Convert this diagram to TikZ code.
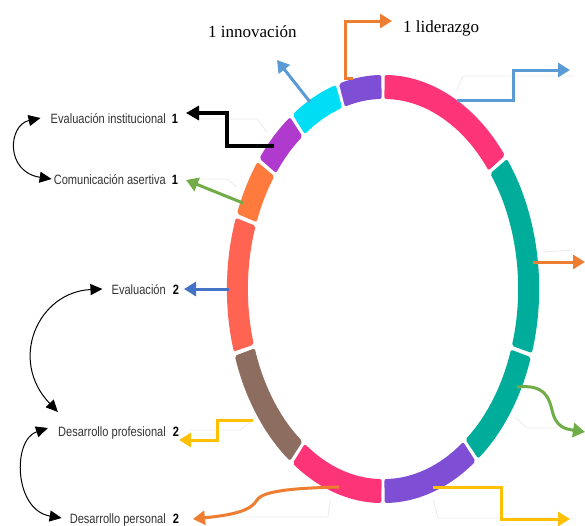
\documentclass[tikz,border=0pt]{standalone}
\usepackage{fontspec}
\setmainfont{Liberation Serif}
\newfontfamily\lblfont[FakeStretch=0.82]{Liberation Sans}
\usetikzlibrary{arrows.meta}
\definecolor{segpink}{HTML}{FE3479}
\definecolor{segteal}{HTML}{00AD9B}
\definecolor{segpurple}{HTML}{7E4FD5}
\definecolor{segbrown}{HTML}{8C6D60}
\definecolor{segcoral}{HTML}{FF6352}
\definecolor{segorange}{HTML}{FF7A3D}
\definecolor{segmagenta}{HTML}{B03ACD}
\definecolor{segcyan}{HTML}{00DEF6}
\definecolor{arrgreen}{HTML}{70AD47}
\definecolor{arrsky}{HTML}{5B9BD5}
\definecolor{arrorange}{HTML}{ED7D31}
\definecolor{arryellow}{HTML}{FFC000}
\definecolor{arrblue}{HTML}{4472C4}
\definecolor{labelgray}{HTML}{333333}
\definecolor{leadergray}{HTML}{EBEBEB}
\newcommand\ao{156}
\newcommand\bo{214}
\newcommand\ai{135}
\newcommand\bi{190}
\newcommand\ringseg[3]{%
  \fill[#3, rounded corners=2pt] (-#1+0.6:\ao\space and \bo) arc[start angle=-#1+0.6, end angle=-#2-0.6, x radius=\ao, y radius=\bo]
    -- (-#2-0.6:\ai\space and \bi) arc[start angle=-#2-0.6, end angle=-#1+0.6, x radius=\ai, y radius=\bi] -- cycle;}
\begin{document}
\begin{tikzpicture}[x=1pt,y=-1pt,
  conn/.style={line width=3pt, -{Triangle[length=12pt,width=14pt]}},
  swaparrow/.style={line width=1pt, {Triangle[length=12pt,width=11pt]}-{Triangle[length=12pt,width=11pt]}},
  lbl/.style={font=\lblfont\fontsize{13.5}{14}\selectfont, text=labelgray, anchor=base east, inner sep=0pt},
  num/.style={font=\lblfont\bfseries\fontsize{13.5}{14}\selectfont, anchor=base, inner sep=0pt},
  serif/.style={font=\fontsize{17}{20}\selectfont, anchor=base west, inner sep=0pt},
  leader/.style={draw=leadergray, line width=0.8pt}]
\useasboundingbox (0,0) rectangle (585,525);
% faint leader lines
\draw[leader] (197,119) -- (257,119) -- (267,132);
\draw[leader] (200,179) -- (227,179) -- (237,187);
\draw[leader] (575,76) -- (463,76) -- (457,90);
\draw[leader] (543,252) -- (575,250);
\draw[leader] (515,417) -- (527,428) -- (585,428);
\draw[leader] (200,517) -- (328,517) -- (330,500);
\draw[leader] (433,500) -- (438,518) -- (575,518);
\draw[leader] (190,430) -- (240,430) -- (253,420);
% ring
\begin{scope}[shift={(383,289)}]
\ringseg{90}{38}{segpink}
\ringseg{38}{-18}{segteal}
\ringseg{-18}{-53}{segteal}
\ringseg{-53}{-90}{segpurple}
\ringseg{270}{234}{segpink}
\ringseg{234}{197.6}{segbrown}
\ringseg{197.6}{160}{segcoral}
\ringseg{160}{143}{segorange}
\ringseg{143}{126}{segmagenta}
\ringseg{126}{107}{segcyan}
\ringseg{107}{90}{segpurple}
\end{scope}
% labels
\node[lbl] (ei) at (166,123) {Evaluación institucional};
\node[num] (ein) at (175,123) {1};
\node[lbl] (ca) at (166,184) {Comunicación asertiva};
\node[num] (can) at (175,184) {1};
\node[lbl] (ev) at (166,294) {Evaluación};
\node[num] (evn) at (176,294) {2};
\node[lbl] (dpf) at (166,436) {Desarrollo profesional};
\node[num] (dpfn) at (176,436) {2};
\node[lbl] (dps) at (166,523) {Desarrollo personal};
\node[num] (dpsn) at (176,523) {2};
\node[serif] (inn) at (208,37) {1 innovación};
\node[serif] (lid) at (403,32) {1 liderazgo};
% connector endpoints
\coordinate (sBlack) at (274,146);
\coordinate (tBlack) at (186,113);
\coordinate (sGreen) at (243,203);
\coordinate (tGreen) at (186,180);
\coordinate (sSky) at (310,102);
\coordinate (tSky) at (277,60);
\coordinate (sOrTop) at (353,78);
\coordinate (tOrTop) at (392,21);
\coordinate (sSkyR) at (457,100);
\coordinate (tSkyR) at (570,70);
\coordinate (sOrR) at (533,262);
\coordinate (tOrR) at (585,262);
\coordinate (sGreenR) at (517,387);
\coordinate (tGreenR) at (585,432);
\coordinate (sYelR) at (433,487);
\coordinate (tYelR) at (570,519);
\coordinate (sOrB) at (339,487);
\coordinate (tOrB) at (193,519);
\coordinate (sYelL) at (253,420);
\coordinate (tYelL) at (179,440);
\coordinate (sBlue) at (229,289);
\coordinate (tBlue) at (184,289);
% coloured connectors
\draw[conn, black, line width=3.2pt, -{Triangle[length=13pt,width=14pt]}] (sBlack) -- (227,146) -- (227,113) -- (tBlack);
\draw[conn, arrgreen] (sGreen) -- (tGreen);
\draw[conn, arrsky] (sSky) -- (tSky);
\draw[conn, arrorange] (sOrTop) -- (345,78) -- (345,21) -- (tOrTop);
\draw[conn, arrsky] (sSkyR) -- (513,100) -- (513,70) -- (tSkyR);
\draw[conn, arrorange] (sOrR) -- (tOrR);
\draw[conn, arrgreen] (sGreenR) .. controls (545,384) and (549,398) .. (552,410) .. controls (556,428) and (566,429) .. (tGreenR);
\draw[conn, arryellow] (sYelR) -- (501,487) -- (501,519) -- (tYelR);
\draw[conn, arrorange] (sOrB) .. controls (300,488) and (263,490) .. (257,500) .. controls (251,511) and (232,515) .. (tOrB);
\draw[conn, arryellow] (sYelL) -- (217,420) -- (217,440) -- (tYelL);
\draw[conn, arrblue] (sBlue) -- (tBlue);
% black swap curves
\draw[swaparrow] ([xshift=-10pt,yshift=5pt]ei.base west) .. controls (8,125) and (5,172) .. ([xshift=-2pt,yshift=5pt]ca.base west);
\draw[swaparrow] ([xshift=-9pt,yshift=5pt]ev.base west) .. controls (38,292) and (8,360) .. ([yshift=24pt]dpf.base west);
\draw[swaparrow] ([xshift=-10pt,yshift=8pt]dpf.base west) .. controls (12,440) and (14,510) .. ([xshift=-8pt,yshift=5pt]dps.base west);
\end{tikzpicture}
\end{document}
